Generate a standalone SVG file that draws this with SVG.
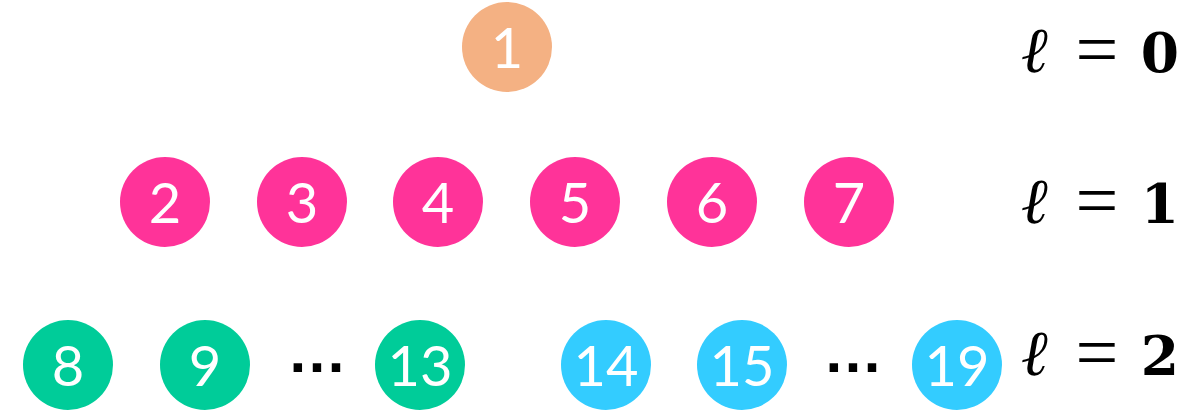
<svg xmlns="http://www.w3.org/2000/svg" width="1186" height="410" viewBox="0 0 1186 410">
<style>
.n text{font-family:Lato,"Open Sans",sans-serif;font-size:56px;fill:#fff;text-anchor:middle}
.o circle{fill:#F4B183}
.p circle{fill:#FF3399}
.g circle{fill:#00CC99}
.b circle{fill:#33CCFF}
.ell{font-family:"DejaVu Serif",serif;font-style:italic;font-size:64px;fill:#000;text-anchor:middle}
.eq{font-family:"Liberation Serif",serif;font-size:76px;fill:#000;text-anchor:middle}
.dg{font-family:"DejaVu Serif",serif;font-weight:bold;font-size:55px;fill:#000;text-anchor:middle}
.dots{font-family:"Liberation Sans",sans-serif;font-weight:bold;font-size:60px;fill:#000;text-anchor:middle}
</style>
<g id="node1" class="n o"><circle cx="507" cy="47" r="45"/><text x="507" y="68">1</text></g>
<g id="node2" class="n p"><circle cx="165" cy="202" r="45"/><text x="165" y="223">2</text></g>
<g id="node3" class="n p"><circle cx="302" cy="202" r="45"/><text x="302" y="223">3</text></g>
<g id="node4" class="n p"><circle cx="438" cy="202" r="45"/><text x="438" y="223">4</text></g>
<g id="node5" class="n p"><circle cx="575" cy="202" r="45"/><text x="575" y="223">5</text></g>
<g id="node6" class="n p"><circle cx="712" cy="202" r="45"/><text x="712" y="223">6</text></g>
<g id="node7" class="n p"><circle cx="849" cy="202" r="45"/><text x="849" y="223">7</text></g>
<g id="node8" class="n g"><circle cx="68" cy="365" r="45"/><text x="68" y="386">8</text></g>
<g id="node9" class="n g"><circle cx="205" cy="365" r="45"/><text x="205" y="386">9</text></g>
<g id="node13" class="n g"><circle cx="420" cy="365" r="45"/><text x="420" y="386">13</text></g>
<g id="node14" class="n b"><circle cx="606" cy="365" r="45"/><text x="606" y="386">14</text></g>
<g id="node15" class="n b"><circle cx="742" cy="365" r="45"/><text x="742" y="386">15</text></g>
<g id="node19" class="n b"><circle cx="957" cy="365" r="45"/><text x="957" y="386">19</text></g>
<g id="ellipses">
<text class="dots" x="317" y="372">…</text>
<text class="dots" x="853" y="372">…</text>
</g>
<g id="labels">
<text class="ell" x="1034" y="72">ℓ</text><text class="eq" x="1097" y="75">=</text><text class="dg" x="1160" y="72">0</text>
<text class="ell" x="1034" y="223">ℓ</text><text class="eq" x="1097" y="226">=</text><text class="dg" x="1160" y="223">1</text>
<text class="ell" x="1034" y="375">ℓ</text><text class="eq" x="1097" y="378">=</text><text class="dg" x="1160" y="375">2</text>
</g>
<g id="connectors"></g>
</svg>
